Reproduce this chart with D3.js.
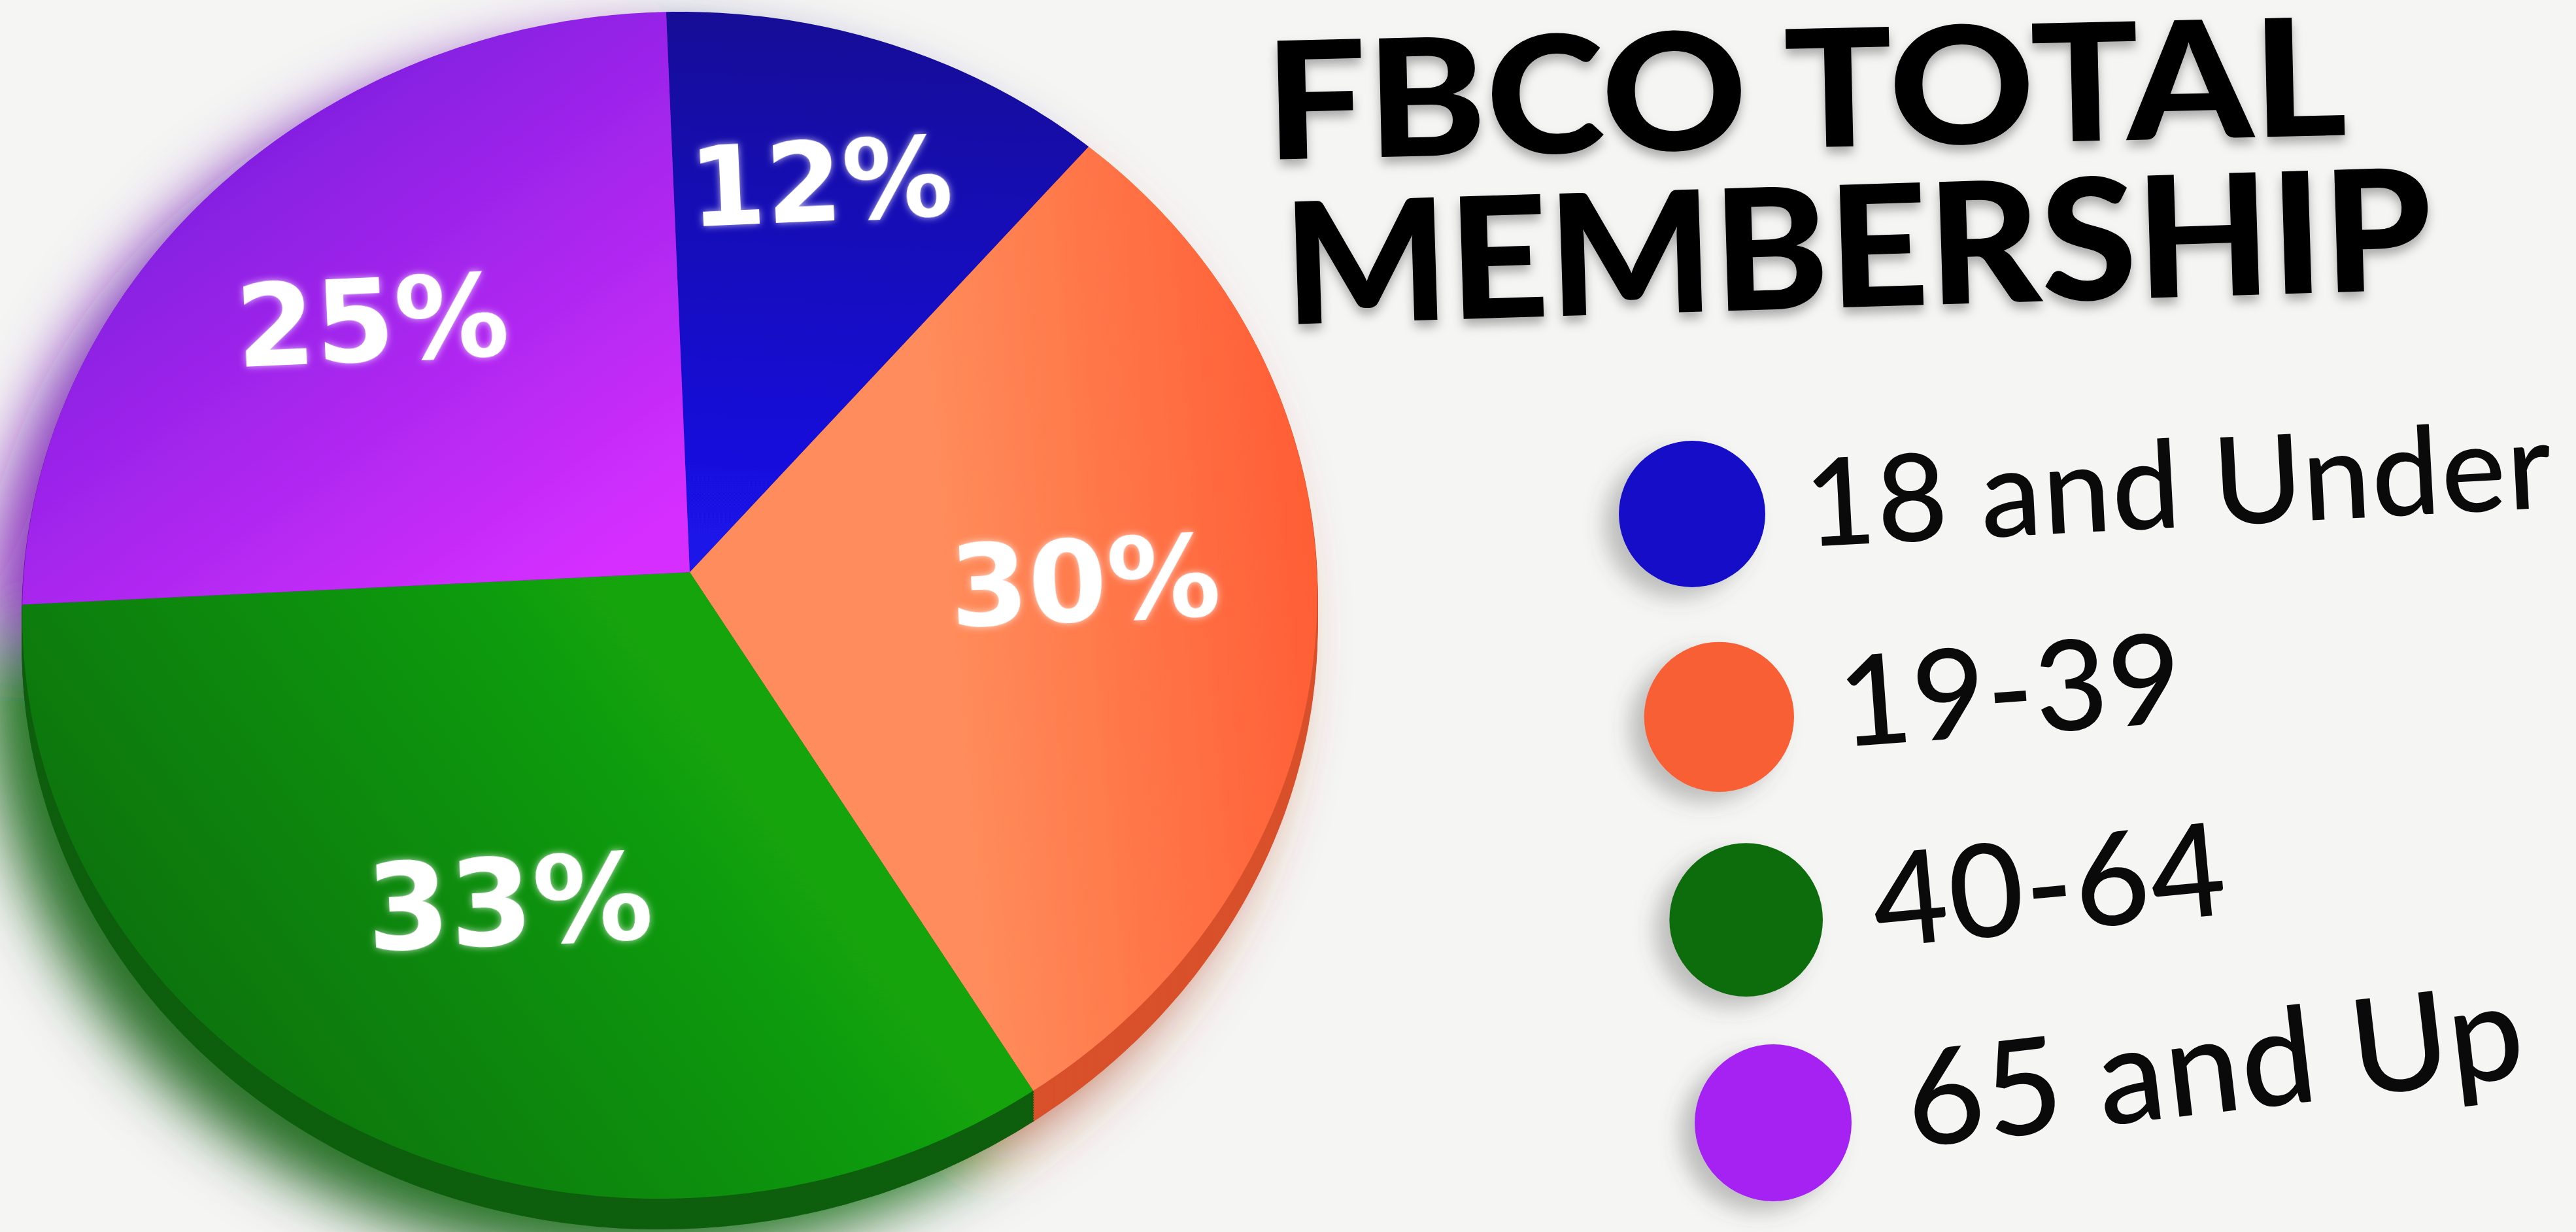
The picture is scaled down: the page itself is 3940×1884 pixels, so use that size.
<!DOCTYPE html>
<html lang="en">
<head>
    <meta charset="UTF-8">
    <title>FBCO Total Membership</title>
    <script src="https://d3js.org/d3.v7.min.js"></script>
    <style>
        body { margin: 0; background: #f5f5f4; overflow: hidden; }
    </style>
</head>
<body>
<div id="chart"></div>
<script>
    // data
    var categories = ["18 and Under", "19-39", "40-64", "65 and Up"];
    var values = [12, 30, 33, 25];
    var titleLines = ["FBCO TOTAL", "MEMBERSHIP"];

    // colours
    var legendColors = ["#1411c9", "#f95f36", "#0d6d0b", "#a522f3"];
    var topColors = [["#120b98", "#1a12e8"], ["#ff8c5b", "#ff5f36"], ["#12a410", "#0b730b"], ["#7a1ddd", "#d52fff"]];
    var sideColors = ["#0b0778", "#d8512b", "#0a5e0a", "#7016ad"];

    var width = 3940, height = 1884;

    // the poster is photographed at an angle: flat unit pie -> screen
    var tilt = {cx: 1055, cy: 875, ux: 987, uy: -48, vx: 38, vy: 903, ku: 0.033, kv: -0.054};

    function project(u, v) {
        var w = 1 + tilt.ku * u + tilt.kv * v;
        return [tilt.cx + (tilt.ux * u + tilt.vx * v) / w, tilt.cy + (tilt.uy * u + tilt.vy * v) / w, w];
    }

    // run d3.arc through a context that projects every point
    function tiltedPath(arcGen, d) {
        var pts = [];
        var ctx = {
            moveTo: function (x, y) { pts.push(project(x, y)); },
            lineTo: function (x, y) { pts.push(project(x, y)); },
            arc: function (x, y, r, a0, a1, ccw) {
                var da = a1 - a0;
                if (!ccw && da < 0) da += 2 * Math.PI;
                if (ccw && da > 0) da -= 2 * Math.PI;
                var n = Math.max(8, Math.ceil(Math.abs(da) * 90));
                for (var i = 0; i <= n; i++) {
                    var a = a0 + da * i / n;
                    pts.push(project(x + r * Math.cos(a), y + r * Math.sin(a)));
                }
            },
            closePath: function () {}
        };
        arcGen.context(ctx)(d);
        arcGen.context(null);
        return "M" + pts.map(function (p) { return p[0].toFixed(1) + "," + p[1].toFixed(1); }).join("L") + "Z";
    }

    // label sits a bit outside the area centroid of its sector
    function labelPoint(d) {
        var th = d.endAngle - d.startAngle;
        var mid = (d.startAngle + d.endAngle) / 2 - 2 * Math.PI / 180;
        var r = 1.09 * 4 * Math.sin(th / 2) / (3 * th);
        return project(r * Math.sin(mid), -r * Math.cos(mid));
    }

    var svg = d3.select("#chart").append("svg")
        .attr("width", width)
        .attr("height", height);

    var defs = svg.append("defs");

    // gradients for the top faces
    var grads = [
        {x1: 1150, y1: 30, x2: 1120, y2: 820},
        {x1: 1450, y1: 950, x2: 2000, y2: 900},
        {x1: 1000, y1: 1000, x2: 250, y2: 1550},
        {x1: 450, y1: 60, x2: 980, y2: 820}
    ];
    grads.forEach(function (g, i) {
        var lg = defs.append("linearGradient").attr("id", "top" + i)
            .attr("gradientUnits", "userSpaceOnUse")
            .attr("x1", g.x1).attr("y1", g.y1).attr("x2", g.x2).attr("y2", g.y2);
        lg.append("stop").attr("offset", "0%").attr("stop-color", topColors[i][0]);
        lg.append("stop").attr("offset", "100%").attr("stop-color", topColors[i][1]);
    });

    var shadow = defs.append("filter").attr("id", "pieShadow")
        .attr("x", "-15%").attr("y", "-15%").attr("width", "130%").attr("height", "135%");
    shadow.append("feGaussianBlur").attr("in", "SourceGraphic").attr("stdDeviation", 45).attr("result", "b");
    shadow.append("feOffset").attr("in", "b").attr("dx", -55).attr("dy", 45).attr("result", "o");
    shadow.append("feColorMatrix").attr("in", "o").attr("type", "matrix")
        .attr("values", "0.55 0 0 0 0  0 0.55 0 0 0  0 0 0.55 0 0  0 0 0 0.85 0").attr("result", "s");
    var sm = shadow.append("feMerge");
    sm.append("feMergeNode").attr("in", "s");
    sm.append("feMergeNode").attr("in", "SourceGraphic");

    var glow = defs.append("filter").attr("id", "glow")
        .attr("x", "-30%").attr("y", "-40%").attr("width", "160%").attr("height", "180%");
    glow.append("feGaussianBlur").attr("in", "SourceAlpha").attr("stdDeviation", 6).attr("result", "b");
    glow.append("feFlood").attr("flood-color", "#ffffff").attr("flood-opacity", 0.7);
    glow.append("feComposite").attr("in2", "b").attr("operator", "in").attr("result", "g");
    var gm = glow.append("feMerge");
    gm.append("feMergeNode").attr("in", "g");
    gm.append("feMergeNode").attr("in", "SourceGraphic");

    var textShadow = defs.append("filter").attr("id", "textShadow")
        .attr("x", "-5%").attr("y", "-20%").attr("width", "110%").attr("height", "150%");
    textShadow.append("feDropShadow").attr("dx", 0).attr("dy", 10).attr("stdDeviation", 8)
        .attr("flood-color", "#000").attr("flood-opacity", 0.3);

    var dotShadow = defs.append("filter").attr("id", "dotShadow")
        .attr("x", "-50%").attr("y", "-50%").attr("width", "200%").attr("height", "200%");
    dotShadow.append("feDropShadow").attr("dx", -22).attr("dy", 16).attr("stdDeviation", 16)
        .attr("flood-color", "#555").attr("flood-opacity", 0.35);

    // pie
    var pie = d3.pie().sort(null).value(function (d) { return d; });
    var arcs = pie(values);
    var arc = d3.arc().innerRadius(0).outerRadius(1);

    var pieG = svg.append("g").attr("filter", "url(#pieShadow)");

    // side of the disc
    var depth = 46;
    d3.range(depth, 0, -4).forEach(function (dy) {
        pieG.append("g").attr("transform", "translate(0," + dy + ")")
            .selectAll("path").data(arcs).enter().append("path")
            .attr("d", function (d) { return tiltedPath(arc, d); })
            .attr("fill", function (d, i) { return sideColors[i]; })
            .attr("stroke", function (d, i) { return sideColors[i]; })
            .attr("stroke-width", 2);
    });

    // top face
    pieG.append("g").selectAll("path").data(arcs).enter().append("path")
        .attr("d", function (d) { return tiltedPath(arc, d); })
        .attr("fill", function (d, i) { return "url(#top" + i + ")"; });

    // percentage labels
    svg.append("g").selectAll("text").data(arcs).enter().append("text")
        .attr("transform", function (d) {
            var p = labelPoint(d);
            return "translate(" + p[0] + "," + p[1] + ") rotate(-2.5)";
        })
        .attr("text-anchor", "middle")
        .attr("dy", "0.31em")
        .attr("font-family", "'DejaVu Sans', sans-serif")
        .attr("font-weight", "bold")
        .attr("font-size", function (d) { return 176 / labelPoint(d)[2]; })
        .attr("fill", "#ffffff")
        .attr("filter", "url(#glow)")
        .text(function (d) { return d.data + "%"; });

    // title
    var title = svg.append("g").attr("filter", "url(#textShadow)");
    var titleY = d3.scaleLinear().domain([0, 1]).range([244, 496]);
    var titleX = d3.scaleLinear().domain([0, 1]).range([1937, 1966]);
    var titleLen = [1654, 1757];
    titleLines.forEach(function (t, i) {
        title.append("text")
            .attr("transform", "translate(" + titleX(i) + "," + titleY(i) + ") rotate(" + (-1.3 - 0.45 * i) + ")")
            .attr("font-family", "Lato, sans-serif")
            .attr("font-weight", 900)
            .attr("font-size", 250 + 8 * i)
            .attr("textLength", titleLen[i])
            .attr("lengthAdjust", "spacingAndGlyphs")
            .attr("fill", "#050505")
            .text(t);
    });

    // legend
    var n = categories.length - 1;
    var ly = d3.scaleLinear().domain([0, n]).range([786, 1717]);
    var lx = d3.scaleLinear().domain([0, n]).range([2588, 2712]);
    var lr = d3.scaleLinear().domain([0, n]).range([112, 120]);
    var lf = d3.scaleLinear().domain([0, n]).range([186, 204]);

    var legend = svg.append("g").selectAll("g").data(categories).enter().append("g");

    legend.append("circle")
        .attr("cx", function (d, i) { return lx(i); })
        .attr("cy", function (d, i) { return ly(i); })
        .attr("r", function (d, i) { return lr(i); })
        .attr("fill", function (d, i) { return legendColors[i]; })
        .attr("filter", "url(#dotShadow)");

    legend.append("text")
        .attr("transform", function (d, i) {
            return "translate(" + (lx(i) + 176 + 12 * i) + "," + (ly(i) + 50 - 4 * i) + ") rotate(" + (-3 - 1.2 * i) + ")";
        })
        .attr("font-family", "Lato, sans-serif")
        .attr("font-weight", 500)
        .attr("font-size", function (d, i) { return lf(i); })
        .attr("letter-spacing", 2)
        .attr("fill", "#0a0a0a")
        .text(function (d) { return d; });
</script>
</body>
</html>
